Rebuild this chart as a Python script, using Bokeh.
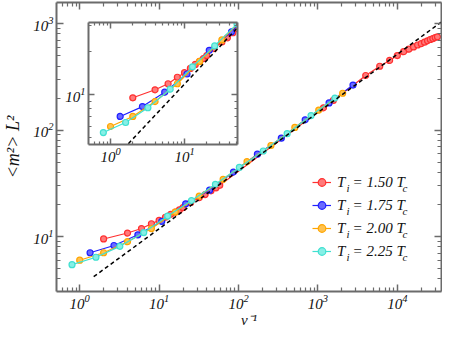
from bokeh.plotting import figure
from bokeh.models import LogAxis, FixedTicker, Legend, LegendItem, Label, Range1d, CustomJSTickFormatter
from bokeh.embed import file_html
from bokeh.resources import INLINE

# ---------------- data ----------------
red_x = [2, 4, 6, 8, 10, 12, 14, 16, 18, 20, 25, 32, 38, 45, 52, 58,
         1175, 1560, 4000, 6000, 8000, 10000, 12000, 14000, 16000, 18000,
         20000, 22000, 24000, 26000, 28000, 30000, 32000]
red_y = [9.5, 10.8, 11.9, 13.2, 14.2, 15.2, 16.2, 17.0, 17.8, 18.7, 20.9, 23.2, 24.8, 26.9, 28.7, 30.3,
         162, 190, 326, 398, 451, 501, 545, 576, 604, 630,
         649, 670, 690, 710, 724, 740, 752]

blue_x = [1.35, 2.7, 5.4, 10.8, 21.6, 43.2, 86.4, 172.8, 345.6, 691.2, 1382.4, 2764.8]
blue_y = [7.05, 8.25, 10.4, 13.9, 20.3, 27.3, 40.4, 59.5, 84, 125, 180, 265]

orange_x = [1, 2, 4, 8, 16, 32, 64, 128, 256, 512, 1024, 2048]
orange_y = [6.0, 7.05, 8.95, 11.9, 17.0, 24.0, 34.5, 50.5, 71.7, 106, 154, 222]

cyan_x = [0.8, 1.6, 3.2, 6.4, 12.8, 25.6, 51.2, 102.4, 204.8, 409.6, 819.2, 1638.4]
cyan_y = [5.45, 6.4, 8.1, 10.9, 15.6, 21.8, 31.0, 44.6, 63.7, 92.6, 137, 200]

dash_x = [1.5, 40000]
dash_y = [4.2, 1100]

series_labels = ["1.50", "1.75", "2.00", "2.25"]

main_x_range = (0.51, 36000)
main_y_range = (3.05, 1580)
inset_x_range = (0.504, 52)
inset_y_range = (4.5, 31.7)

main_x_major = [1, 10, 100, 1000, 10000]
main_x_minor = [0.6, 0.7, 0.8, 0.9] + [m * d for d in (1, 10, 100, 1000) for m in range(2, 10)] + [20000, 30000]
main_y_major = [10, 100, 1000]
main_y_minor = [4, 5, 6, 7, 8, 9] + [m * d for d in (10, 100) for m in range(2, 10)]
inset_x_major = [1, 10]
inset_x_minor = [0.6, 0.7, 0.8, 0.9] + list(range(2, 10)) + [20, 30, 40, 50]
inset_y_major = [10]
inset_y_minor = [5, 6, 7, 8, 9, 20, 30]

# ---------------- styles ----------------
FONT = "Liberation Serif"
AXIS_COLOR = "#6b6b6b"
line_colors = ["#ff3030", "#2020ff", "#ffa500", "#40e0d0"]
fill_colors = ["#ff7a7a", "#6a6aff", "#ffc24f", "#86efe6"]
data = [(red_x, red_y), (blue_x, blue_y), (orange_x, orange_y), (cyan_x, cyan_y)]


def style_axis(ax, major, minor, labels=True, tin=7, tmin=4):
    ax.ticker = FixedTicker(ticks=major, minor_ticks=minor)
    ax.axis_line_color = AXIS_COLOR
    ax.axis_line_width = 2
    ax.major_tick_line_color = AXIS_COLOR
    ax.minor_tick_line_color = AXIS_COLOR
    ax.major_tick_line_width = 1.5
    ax.minor_tick_line_width = 1.2
    ax.major_tick_in = tin
    ax.major_tick_out = 0
    ax.minor_tick_in = tmin
    ax.minor_tick_out = 0
    ax.major_label_text_font = FONT
    ax.major_label_text_font_style = "italic"
    ax.major_label_text_color = "#111111"
    if labels:
        ax.major_label_text_font_size = "15px"
        ax.major_label_standoff = 3
    else:
        ax.formatter = CustomJSTickFormatter(code="return ''")
        ax.major_label_text_font_size = "1px"
        ax.major_label_standoff = 0


def add_series(fig):
    rends = []
    for (xs, ys), lc, fc in zip(data, line_colors, fill_colors):
        l = fig.line(xs, ys, line_color=lc, line_width=1.2)
        s = fig.scatter(xs, ys, marker="circle", size=6, fill_color=fc, line_color=lc, line_width=1.2)
        rends.append((l, s))
    fig.line(dash_x, dash_y, line_color="black", line_dash="4 3", line_width=1.5)
    return rends


# ---------------- main figure ----------------
p = figure(width=442, height=330, x_axis_type="log", y_axis_type="log",
           x_range=Range1d(*main_x_range), y_range=Range1d(*main_y_range),
           output_backend="svg", toolbar_location=None,
           min_border_left=50, min_border_right=1, min_border_top=2, min_border_bottom=36)
p.outline_line_color = None
p.xgrid.grid_line_color = None
p.ygrid.grid_line_color = None
p.background_fill_color = "white"
p.border_fill_color = "white"

bottom_ax = p.below[0]
left_ax = p.left[0]
style_axis(bottom_ax, main_x_major, main_x_minor)
style_axis(left_ax, main_y_major, main_y_minor)
top_ax = LogAxis()
right_ax = LogAxis()
style_axis(top_ax, main_x_major, main_x_minor, labels=False)
style_axis(right_ax, main_y_major, main_y_minor, labels=False)
p.add_layout(top_ax, "above")
p.add_layout(right_ax, "right")

bottom_ax.axis_label = "v\u207b\u00b9"
left_ax.axis_label = "<m\u00b2> L\u00b2"
for ax in (bottom_ax, left_ax):
    ax.axis_label_text_font = FONT
    ax.axis_label_text_font_style = "italic"
    ax.axis_label_text_color = "#111111"
bottom_ax.axis_label_text_font_size = "15px"
left_ax.axis_label_text_font_size = "18px"
bottom_ax.axis_label_standoff = 0
left_ax.axis_label_standoff = 7

rends = add_series(p)

LX, LY = 256, 30
items = [LegendItem(label="T  = %s T" % lab, renderers=[l, s]) for (l, s), lab in zip(rends, series_labels)]
legend = Legend(items=items, location=(LX, LY), padding=0, margin=0, spacing=3,
                glyph_width=19, glyph_height=20, label_height=20, label_standoff=6,
                label_text_font=FONT, label_text_font_style="italic", label_text_font_size="15px",
                label_text_color="#111111", background_fill_alpha=0, border_line_color=None)
p.add_layout(legend)

# subscripts of the legend texts
row_top = LY + 4 * 20 + 3 * 3
for k in range(4):
    cy = row_top - 10 - k * 23
    for txt, dx in (("i", 25 + 9), ("c", 25 + 65)):
        p.add_layout(Label(x=LX + dx, y=cy - 5, x_units="screen", y_units="screen", text=txt,
                           text_font=FONT, text_font_style="italic", text_font_size="11px",
                           text_baseline="middle", text_color="#111111"))

# ---------------- inset ----------------
inset = figure(width=179, height=149, x_axis_type="log", y_axis_type="log",
               x_range=Range1d(*inset_x_range), y_range=Range1d(*inset_y_range),
               output_backend="svg", toolbar_location=None,
               min_border_left=28, min_border_right=2, min_border_top=2, min_border_bottom=25,
               styles={"position": "absolute", "left": "60px", "top": "20px"})
inset.outline_line_color = None
inset.xgrid.grid_line_color = None
inset.ygrid.grid_line_color = None
inset.background_fill_color = "white"
inset.border_fill_alpha = 0
style_axis(inset.below[0], inset_x_major, inset_x_minor, tin=6, tmin=3)
style_axis(inset.left[0], inset_y_major, inset_y_minor, tin=6, tmin=3)
it = LogAxis()
ir = LogAxis()
style_axis(it, inset_x_major, inset_x_minor, labels=False, tin=6, tmin=3)
style_axis(ir, inset_y_major, inset_y_minor, labels=False, tin=6, tmin=3)
inset.add_layout(it, "above")
inset.add_layout(ir, "right")
add_series(inset)

open("out.html", "w").write(file_html([p, inset], INLINE))
